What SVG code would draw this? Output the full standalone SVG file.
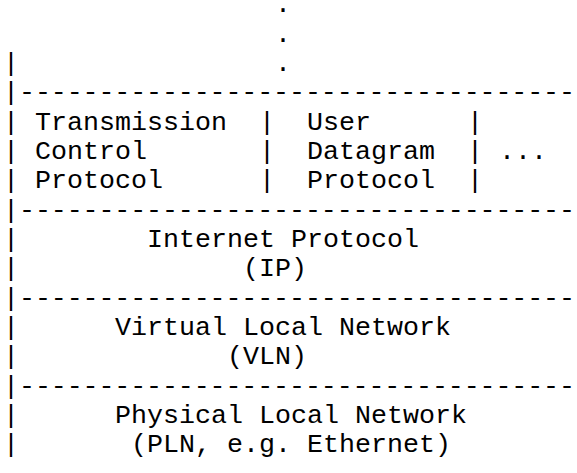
<svg xmlns="http://www.w3.org/2000/svg" width="577" height="473" viewBox="0 0 577 473">
<style>
.t{font-family:"Liberation Mono","Courier New",monospace;font-size:26.667px;fill:#000}
</style>
<rect width="577" height="473" fill="#fff"/>
<g id="frame">
<text class="t" x="275" y="12.2">.</text>
<text class="t" x="275" y="41.55">.</text>
<text class="t" x="3" y="70.9">|</text><text class="t" x="275" y="70.9">.</text>
<text class="t" x="3" y="100.25">|</text><text class="t" x="19" y="100.25" textLength="556" lengthAdjust="spacing">-----------------------------------</text>
<text class="t" x="3" y="129.6">|</text><text class="t" x="259" y="129.6">|</text><text class="t" x="467" y="129.6">|</text>
<text class="t" x="3" y="158.95">|</text><text class="t" x="259" y="158.95">|</text><text class="t" x="467" y="158.95">|</text>
<text class="t" x="3" y="188.3">|</text><text class="t" x="259" y="188.3">|</text><text class="t" x="467" y="188.3">|</text>
<text class="t" x="3" y="217.65">|</text><text class="t" x="19" y="217.65" textLength="556" lengthAdjust="spacing">-----------------------------------</text>
<text class="t" x="3" y="247">|</text>
<text class="t" x="3" y="276.35">|</text>
<text class="t" x="3" y="305.7">|</text><text class="t" x="19" y="305.7" textLength="556" lengthAdjust="spacing">-----------------------------------</text>
<text class="t" x="3" y="335.05">|</text>
<text class="t" x="3" y="364.4">|</text>
<text class="t" x="3" y="393.75">|</text><text class="t" x="19" y="393.75" textLength="556" lengthAdjust="spacing">-----------------------------------</text>
<text class="t" x="3" y="423.1">|</text>
<text class="t" x="3" y="452.45">|</text>
</g>
<g id="tcp">
<text class="t" x="35" y="129.6">Transmission</text>
<text class="t" x="35" y="158.95">Control</text>
<text class="t" x="35" y="188.3">Protocol</text>
</g>
<g id="udp">
<text class="t" x="307" y="129.6">User</text>
<text class="t" x="307" y="158.95">Datagram</text>
<text class="t" x="307" y="188.3">Protocol</text>
</g>
<g id="other">
<text class="t" x="499" y="158.95">...</text>
</g>
<g id="ip">
<text class="t" x="147" y="247">Internet Protocol</text>
<text class="t" x="243" y="276.35">(IP)</text>
</g>
<g id="vln">
<text class="t" x="115" y="335.05">Virtual Local Network</text>
<text class="t" x="227" y="364.4">(VLN)</text>
</g>
<g id="pln">
<text class="t" x="115" y="423.1">Physical Local Network</text>
<text class="t" x="131" y="452.45">(PLN, e.g. Ethernet)</text>
</g>
</svg>
